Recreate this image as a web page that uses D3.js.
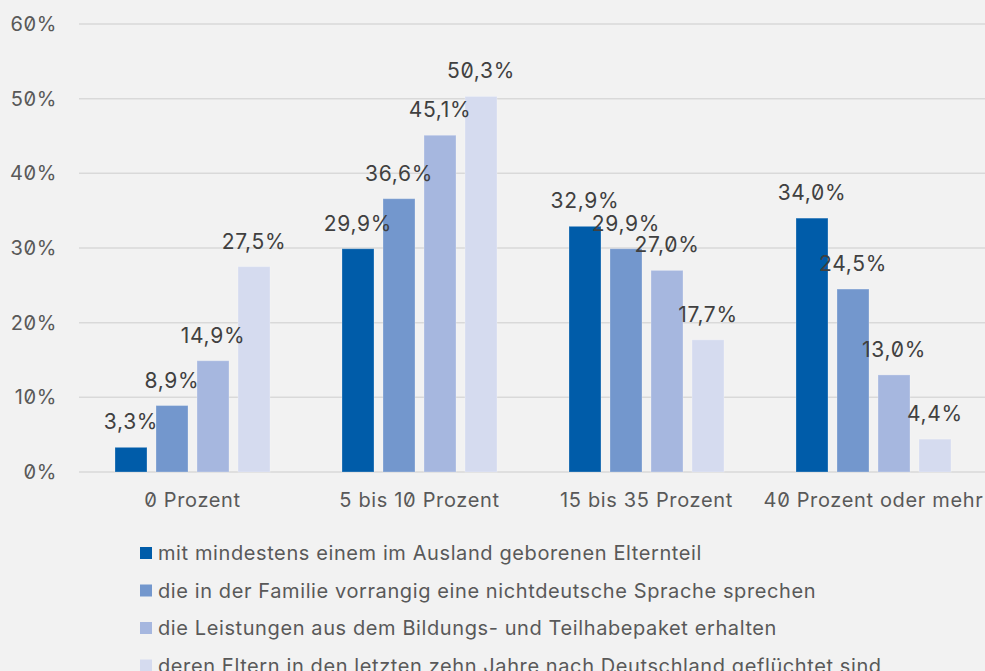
<html lang="de">
<head>
  <meta charset="UTF-8">
  <title>Anteil Kinder</title>
  <style>
    body { margin: 0; background: #f2f2f2; }
    svg text { font-family: Inter, "Noto Sans", sans-serif; font-feature-settings: "zero" 1; }
  </style>
</head>
<body>
  <script src="https://d3js.org/d3.v7.min.js"></script>
  <div id="chart"></div>
  <script>
    const categories = ["0 Prozent", "5 bis 10 Prozent", "15 bis 35 Prozent", "40 Prozent oder mehr"];
    const seriesNames = [
      "mit mindestens einem im Ausland geborenen Elternteil",
      "die in der Familie vorrangig eine nichtdeutsche Sprache sprechen",
      "die Leistungen aus dem Bildungs- und Teilhabepaket erhalten",
      "deren Eltern in den letzten zehn Jahre nach Deutschland geflüchtet sind"
    ];
    const s1 = [3.3, 29.9, 32.9, 34.0];
    const s2 = [8.9, 36.6, 29.9, 24.5];
    const s3 = [14.9, 45.1, 27.0, 13.0];
    const s4 = [27.5, 50.3, 17.7, 4.4];
    const yTicks = [0, 10, 20, 30, 40, 50, 60];
    const colors = ["#005ca9", "#7397cd", "#a6b7df", "#d5dbef"];

    const series = [s1, s2, s3, s4];
    const width = 985, height = 671;
    const margin = { top: 24, right: -2, bottom: 199, left: 79 };

    const de = d3.formatLocale({ decimal: ",", thousands: ".", grouping: [3], currency: ["", " €"] });
    const fmt = v => de.format(".1f")(v) + "%";

    const svg = d3.select("#chart").append("svg")
      .attr("width", width).attr("height", height);

    const x0 = d3.scaleBand()
      .domain(categories)
      .range([margin.left, width - margin.right])
      .paddingInner(0).paddingOuter(0);

    const x1 = d3.scaleBand()
      .domain(d3.range(series.length))
      .range([36, x0.bandwidth() - 36])
      .paddingInner(0.22).paddingOuter(0);

    const y = d3.scaleLinear()
      .domain([0, 60])
      .range([height - margin.bottom, margin.top]);

    // grid lines
    svg.append("g")
      .selectAll("line")
      .data(yTicks)
      .join("line")
        .attr("x1", margin.left).attr("x2", width)
        .attr("y1", d => y(d)).attr("y2", d => y(d))
        .attr("stroke", "#d9d9d9")
        .attr("stroke-width", 1.5);

    // y axis labels
    svg.append("g")
      .selectAll("text")
      .data(yTicks)
      .join("text")
        .attr("x", 57)
        .attr("y", d => y(d))
        .attr("dy", "0.35em")
        .attr("text-anchor", "end")
        .attr("fill", "#595959")
        .style("font-size", "20px")
        .style("letter-spacing", "0.6px")
        .text(d => d + "%");

    // bars
    const groups = svg.append("g")
      .selectAll("g")
      .data(categories)
      .join("g")
        .attr("transform", d => "translate(" + x0(d) + ",0)");

    groups.selectAll("rect")
      .data((d, i) => series.map((s, k) => ({ k: k, v: s[i] })))
      .join("rect")
        .attr("x", d => x1(d.k))
        .attr("width", x1.bandwidth())
        .attr("y", d => y(d.v))
        .attr("height", d => y(0) - y(d.v))
        .attr("fill", d => colors[d.k])
        .attr("stroke", "#ffffff")
        .attr("stroke-opacity", 0.25)
        .attr("stroke-width", 1);

    groups.selectAll("text")
      .data((d, i) => series.map((s, k) => ({ k: k, v: s[i] })))
      .join("text")
        .attr("x", d => x1(d.k) + x1.bandwidth() / 2)
        .attr("y", d => y(d.v) - 18)
        .attr("text-anchor", "middle")
        .attr("fill", "#404040")
        .style("font-size", "21px")
        .style("letter-spacing", "0.7px")
        .text(d => fmt(d.v));

    // category labels
    svg.append("g")
      .selectAll("text")
      .data(categories)
      .join("text")
        .attr("x", d => x0(d) + x0.bandwidth() / 2)
        .attr("y", 507)
        .attr("text-anchor", "middle")
        .attr("fill", "#595959")
        .style("font-size", "20px")
        .style("letter-spacing", "0.65px")
        .text(d => d);

    // legend
    const legend = svg.append("g")
      .selectAll("g")
      .data(seriesNames)
      .join("g")
        .attr("transform", (d, i) => "translate(140," + (553 + i * 37.5) + ")");

    legend.append("rect")
      .attr("x", 0).attr("y", -6)
      .attr("width", 12).attr("height", 12)
      .attr("fill", (d, i) => colors[i]);

    legend.append("text")
      .attr("x", 18)
      .attr("dy", "0.35em")
      .attr("fill", "#595959")
      .style("font-size", "20px")
      .style("letter-spacing", "0.6px")
      .text(d => d);
  </script>
</body>
</html>
